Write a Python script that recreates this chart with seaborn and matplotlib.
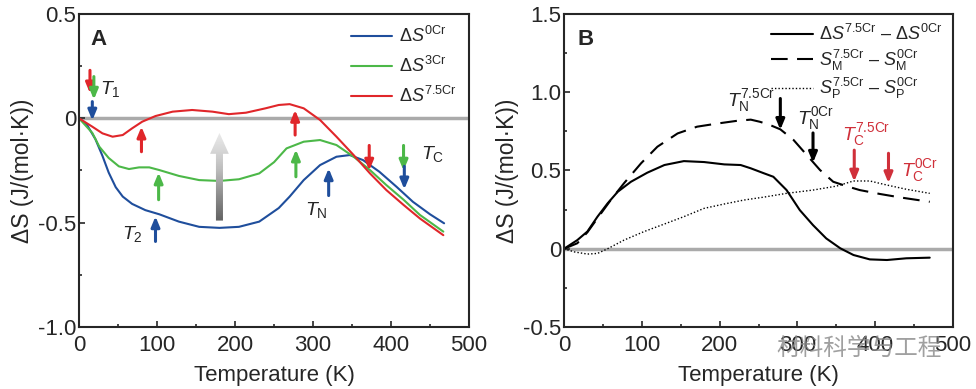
import numpy as np
import seaborn as sns
import matplotlib.pyplot as plt
from matplotlib.patches import FancyArrow

# ---- panel A data ----
temp_0cr = [0, 10, 21, 30, 38, 47, 56, 68, 85, 103, 128, 154, 180, 205, 231, 256, 270, 288, 309, 330, 347, 364, 385, 407, 428, 450, 468]
ds_0cr = [0, -0.03, -0.10, -0.18, -0.26, -0.33, -0.375, -0.41, -0.44, -0.46, -0.495, -0.52, -0.525, -0.52, -0.495, -0.43, -0.375, -0.296, -0.224, -0.184, -0.176, -0.20, -0.256, -0.328, -0.40, -0.46, -0.503]

temp_3cr = [0, 17, 26, 38, 51, 64, 77, 90, 103, 128, 154, 180, 205, 231, 250, 266, 288, 309, 330, 352, 373, 394, 416, 437, 467]
ds_3cr = [0, -0.07, -0.136, -0.19, -0.23, -0.243, -0.235, -0.235, -0.248, -0.276, -0.296, -0.30, -0.292, -0.264, -0.21, -0.144, -0.112, -0.104, -0.128, -0.184, -0.248, -0.32, -0.39, -0.463, -0.543]

temp_75cr = [0, 17, 30, 43, 56, 68, 81, 98, 120, 145, 171, 192, 214, 239, 256, 270, 288, 309, 330, 352, 373, 394, 416, 437, 467]
ds_75cr = [0, -0.04, -0.072, -0.088, -0.08, -0.048, -0.016, 0.011, 0.032, 0.04, 0.032, 0.02, 0.027, 0.048, 0.064, 0.068, 0.048, -0.008, -0.088, -0.176, -0.264, -0.344, -0.415, -0.48, -0.56]

# ---- panel B data ----
temp_b = [0, 17, 30, 43, 56, 69, 86, 107, 129, 154, 180, 206, 227, 240, 257, 269, 286, 303, 320, 337, 355, 372, 393, 415, 440, 470]
diff_total = [0, 0.055, 0.11, 0.205, 0.29, 0.364, 0.428, 0.486, 0.535, 0.56, 0.554, 0.539, 0.535, 0.514, 0.482, 0.46, 0.375, 0.247, 0.151, 0.066, 0.003, -0.04, -0.068, -0.072, -0.061, -0.057]

temp_m = [0, 17, 30, 43, 60, 77, 99, 120, 146, 171, 197, 223, 240, 252, 265, 278, 295, 312, 329, 346, 363, 380, 406, 432, 470]
diff_m = [0, 0.035, 0.105, 0.195, 0.311, 0.418, 0.546, 0.652, 0.737, 0.78, 0.80, 0.818, 0.825, 0.811, 0.79, 0.763, 0.695, 0.599, 0.503, 0.428, 0.40, 0.375, 0.35, 0.328, 0.30]

temp_p = [0, 13, 30, 43, 56, 77, 103, 129, 154, 180, 206, 231, 257, 286, 320, 350, 372, 393, 415, 440, 470]
diff_p = [0, -0.02, -0.034, -0.03, 0, 0.055, 0.11, 0.158, 0.205, 0.258, 0.286, 0.311, 0.33, 0.354, 0.375, 0.40, 0.433, 0.433, 0.407, 0.38, 0.354]

# arrows (x, y_tail, y_head, colour)
arrows_a = [(14, 0.23, 0.12, '#e0262a'), (19, 0.20, 0.09, '#4cb848'), (17, 0.08, -0.01, '#1f4e9c'),
            (80, -0.16, -0.04, '#e0262a'), (102, -0.39, -0.26, '#4cb848'), (98, -0.59, -0.47, '#1f4e9c'),
            (277, -0.08, 0.04, '#e0262a'), (278, -0.28, -0.15, '#4cb848'), (320, -0.37, -0.24, '#1f4e9c'),
            (372, -0.13, -0.25, '#e0262a'), (416, -0.13, -0.25, '#4cb848'), (417, -0.23, -0.34, '#1f4e9c')]
arrows_b = [(278, 0.96, 0.76, 'black'), (320, 0.74, 0.55, 'black'),
            (373, 0.63, 0.43, '#d0303a'), (417, 0.61, 0.42, '#d0303a')]

sns.set_style('ticks')
plt.rcParams['font.family'] = ['Liberation Sans', 'DejaVu Sans']
plt.rcParams['mathtext.fontset'] = 'custom'
plt.rcParams['mathtext.rm'] = 'Liberation Sans'
plt.rcParams['mathtext.it'] = 'Liberation Sans:italic'
plt.rcParams['mathtext.bf'] = 'Liberation Sans:bold'

fig = plt.figure(figsize=(9.76, 3.89), dpi=100)
ax1 = fig.add_axes([0.081, 0.1594, 0.3996, 0.8046])
ax2 = fig.add_axes([0.5779, 0.1594, 0.3986, 0.8046])

for ax in (ax1, ax2):
    ax.axhline(0, color='#aaaaaa', lw=2.5, zorder=0)

sns.lineplot(x=temp_0cr, y=ds_0cr, ax=ax1, color='#1f4e9c', lw=1.5, sort=False, label=r'$\Delta S^{\rm 0Cr}$')
sns.lineplot(x=temp_3cr, y=ds_3cr, ax=ax1, color='#4cb848', lw=1.5, sort=False, label=r'$\Delta S^{\rm 3Cr}$')
sns.lineplot(x=temp_75cr, y=ds_75cr, ax=ax1, color='#e0262a', lw=1.5, sort=False, label=r'$\Delta S^{\rm 7.5Cr}$')

sns.lineplot(x=temp_b, y=diff_total, ax=ax2, color='black', lw=1.5, sort=False,
             label=r'$\Delta S^{\rm 7.5Cr}$ – $\Delta S^{\rm 0Cr}$')
sns.lineplot(x=temp_m, y=diff_m, ax=ax2, color='black', lw=1.5, sort=False,
             label=r'$S_{\rm M}^{\rm 7.5Cr}$ – $S_{\rm M}^{\rm 0Cr}$')
sns.lineplot(x=temp_p, y=diff_p, ax=ax2, color='black', lw=1.0, sort=False,
             label=r'$S_{\rm P}^{\rm 7.5Cr}$ – $S_{\rm P}^{\rm 0Cr}$')
ax2.lines[2].set_linestyle((0, (8, 4.5)))
ax2.lines[3].set_linestyle((0, (1, 1.5)))

for ax, arrows in ((ax1, arrows_a), (ax2, arrows_b)):
    for x, y0, y1, c in arrows:
        ax.annotate('', xy=(x, y1), xytext=(x, y0),
                    arrowprops=dict(arrowstyle='-|>,head_width=0.25,head_length=0.6',
                                    color=c, lw=2.2, shrinkA=0, shrinkB=0))

# big grey gradient arrow in A
big = FancyArrow(180, -0.49, 0, 0.42, width=9, head_width=24, head_length=0.1,
                 length_includes_head=True, facecolor='none', edgecolor='none')
ax1.add_patch(big)
grad = np.linspace(0, 1, 100).reshape(-1, 1)
im = ax1.imshow(grad, extent=[160, 200, -0.49, -0.07], origin='lower', cmap='Greys_r',
                vmin=-0.6, vmax=1.3, aspect='auto', zorder=3)
im.set_clip_path(big)

ax1.set_xlim(0, 500)
ax1.set_ylim(-1.0, 0.5)
ax2.set_xlim(0, 500)
ax2.set_ylim(-0.5, 1.5)
ax1.set_yticks([0.5, 0, -0.5, -1.0])
ax1.set_yticklabels(['0.5', '0', '-0.5', '-1.0'])
ax2.set_yticks([1.5, 1.0, 0.5, 0, -0.5])
ax2.set_yticklabels(['1.5', '1.0', '0.5', '0', '-0.5'])

for ax in (ax1, ax2):
    ax.set_xticks([0, 100, 200, 300, 400, 500])
    ax.set_xticks([50, 150, 250, 350, 450], minor=True)
    ax.set_yticks(np.array(ax.get_yticks()[:-1]) - 0.25, minor=True)
    ax.tick_params(which='both', direction='in', labelsize=16, width=1.2)
    ax.tick_params(which='major', length=4)
    ax.tick_params(which='minor', length=2.5)
    ax.tick_params(axis='x', pad=6)
    ax.tick_params(axis='y', pad=2)
    for s in ax.spines.values():
        s.set_linewidth(1.5)
    ax.set_xlabel('Temperature (K)', fontsize=16, labelpad=6)
    ax.set_ylabel('ΔS (J/(mol·K))', fontsize=16.5, labelpad=3)

ax1.legend(loc='upper right', frameon=False, fontsize=13, handlelength=2.3,
           labelspacing=0.55, borderaxespad=0.25, handletextpad=0.4)
ax2.legend(loc='upper right', frameon=False, fontsize=13, handlelength=2.3,
           labelspacing=0.2, borderaxespad=0.15, handletextpad=0.35)

ax1.text(0.03, 0.92, 'A', transform=ax1.transAxes, fontsize=16, fontweight='bold', va='center')
ax2.text(0.035, 0.92, 'B', transform=ax2.transAxes, fontsize=16, fontweight='bold', va='center')

ax1.text(27, 0.14, r'$T_{\rm 1}$', fontsize=14, va='center')
ax1.text(55, -0.555, r'$T_{\rm 2}$', fontsize=14, va='center')
ax1.text(290, -0.44, r'$T_{\rm N}$', fontsize=14, va='center')
ax1.text(438, -0.17, r'$T_{\rm C}$', fontsize=14, va='center')

ax2.text(210, 0.95, r'$T_{\rm N}^{\rm 7.5Cr}$', fontsize=14, va='center')
ax2.text(300, 0.83, r'$T_{\rm N}^{\rm 0Cr}$', fontsize=14, va='center')
ax2.text(357, 0.73, r'$T_{\rm C}^{\rm 7.5Cr}$', fontsize=14, va='center', color='#d0303a')
ax2.text(433, 0.5, r'$T_{\rm C}^{\rm 0Cr}$', fontsize=14, va='center', color='#d0303a')

fig.text(0.795, 0.105, '材料科学与工程', fontsize=17, color='#888888', alpha=0.8,
         family=['Noto Sans CJK SC', 'DejaVu Sans'], va='center')

fig.savefig('out.png', dpi=100)
